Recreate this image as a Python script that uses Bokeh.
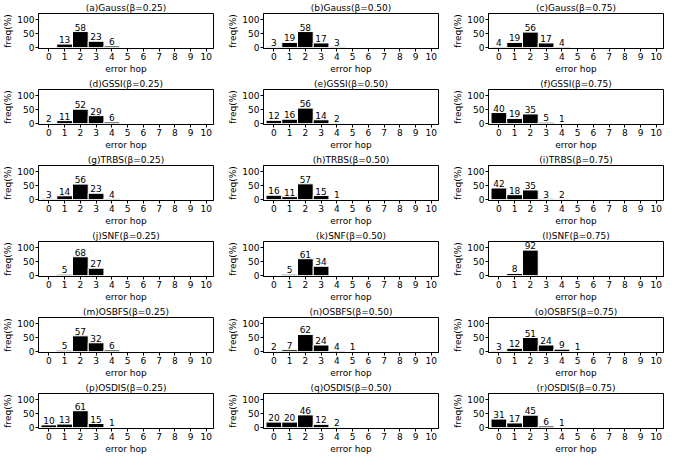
from bokeh.plotting import figure
from bokeh.layouts import gridplot
from bokeh.models import Range1d, FixedTicker, ColumnDataSource
from bokeh.core.properties import value
from bokeh.embed import file_html
from bokeh.resources import INLINE

# ---- data (freq % per error hop) ----
hop_ticks = [0, 1, 2, 3, 4, 5, 6, 7, 8, 9, 10]
freq_ticks = [0, 50, 100]

titles = [
    "(a)Gauss(β=0.25)", "(b)Gauss(β=0.50)", "(c)Gauss(β=0.75)",
    "(d)GSSI(β=0.25)", "(e)GSSI(β=0.50)", "(f)GSSI(β=0.75)",
    "(g)TRBS(β=0.25)", "(h)TRBS(β=0.50)", "(i)TRBS(β=0.75)",
    "(j)SNF(β=0.25)", "(k)SNF(β=0.50)", "(l)SNF(β=0.75)",
    "(m)OSBFS(β=0.25)", "(n)OSBFS(β=0.50)", "(o)OSBFS(β=0.75)",
    "(p)OSDIS(β=0.25)", "(q)OSDIS(β=0.50)", "(r)OSDIS(β=0.75)",
]

gauss_025 = [0, 13, 58, 23, 6]
gauss_050 = [3, 19, 58, 17, 3]
gauss_075 = [4, 19, 56, 17, 4]
gssi_025 = [2, 11, 52, 29, 6]
gssi_050 = [12, 16, 56, 14, 2]
gssi_075 = [40, 19, 35, 5, 1]
trbs_025 = [3, 14, 56, 23, 4]
trbs_050 = [16, 11, 57, 15, 1]
trbs_075 = [42, 18, 35, 3, 2]
snf_025 = [0, 5, 68, 27]
snf_050 = [0, 5, 61, 34]
snf_075 = [0, 8, 92]
osbfs_025 = [0, 5, 57, 32, 6]
osbfs_050 = [2, 7, 62, 24, 4, 1]
osbfs_075 = [3, 12, 51, 24, 9, 1]
osdis_025 = [10, 13, 61, 15, 1]
osdis_050 = [20, 20, 46, 12, 2]
osdis_075 = [31, 17, 45, 6, 1]

series = [gauss_025, gauss_050, gauss_075,
          gssi_025, gssi_050, gssi_075,
          trbs_025, trbs_050, trbs_075,
          snf_025, snf_050, snf_075,
          osbfs_025, osbfs_050, osbfs_075,
          osdis_025, osdis_050, osdis_075]

FONT = "DejaVu Sans"
FS = "9px"

figs = []
for title, vals in zip(titles, series):
    hops = list(range(len(vals)))
    p = figure(width=225, height=76,
               x_range=Range1d(-0.66, 10.46), y_range=Range1d(-3, 123),
               output_backend="svg", toolbar_location=None,
               min_border_left=26, min_border_right=12,
               min_border_top=11, min_border_bottom=27)
    p.title.text = title
    p.title.align = "center"
    p.title.text_font = FONT
    p.title.text_font_size = FS
    p.title.text_font_style = "normal"
    p.title.text_color = "black"
    p.title.standoff = 1
    p.title.offset = 0

    p.vbar(x=hops, top=vals, bottom=0, width=1.0,
           fill_color="black", line_color="white", line_width=1)

    lab_x = [h for h, v in zip(hops, vals) if v > 0]
    lab_y = [v for v in vals if v > 0]
    lab_t = [str(v) for v in vals if v > 0]
    src = ColumnDataSource(dict(x=lab_x, y=lab_y, t=lab_t))
    p.text(x="x", y="y", text="t", source=src, text_align="center",
           text_baseline="bottom", y_offset=-1,
           text_font=value(FONT), text_font_size=FS, text_color="black")

    p.xgrid.visible = False
    p.ygrid.visible = False
    p.outline_line_color = "black"
    p.outline_line_width = 1
    p.background_fill_color = "white"
    p.border_fill_color = "white"

    p.xaxis.ticker = FixedTicker(ticks=hop_ticks)
    p.yaxis.ticker = FixedTicker(ticks=freq_ticks)
    p.xaxis.axis_label = "error hop"
    p.yaxis.axis_label = "freq(%)"
    for ax in (p.xaxis, p.yaxis):
        ax.axis_label_text_font = FONT
        ax.axis_label_text_font_size = FS
        ax.axis_label_text_font_style = "normal"
        ax.major_label_text_font = FONT
        ax.major_label_text_font_size = FS
        ax.major_tick_in = 0
        ax.major_tick_out = 3
        ax.minor_tick_line_color = None
        ax.axis_line_color = "black"
        ax.major_tick_line_color = "black"
        ax.major_label_standoff = 1
        ax.axis_label_standoff = 1
        ax.major_label_text_color = "black"
        ax.axis_label_text_color = "black"
    figs.append(p)

grid = gridplot(figs, ncols=3, toolbar_location=None)
open("out.html", "w").write(file_html(grid, INLINE))
